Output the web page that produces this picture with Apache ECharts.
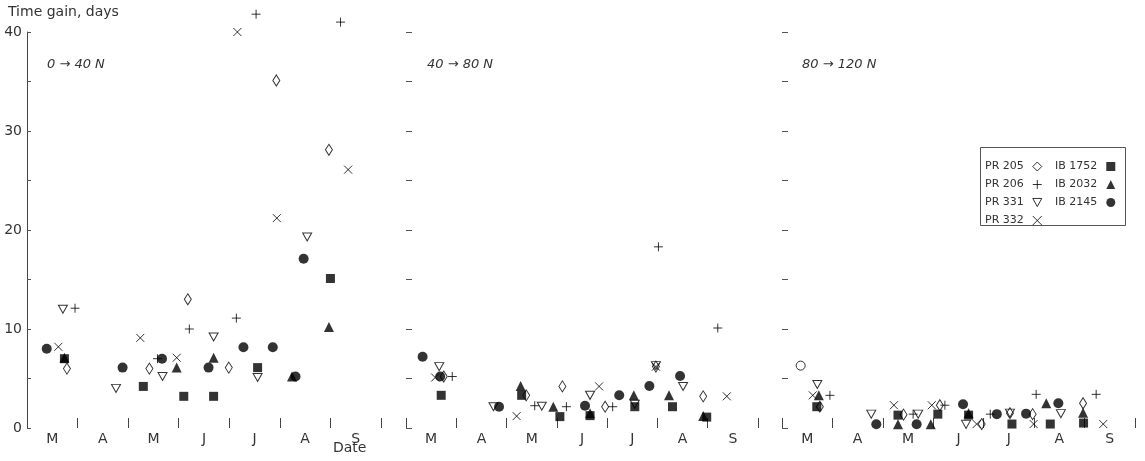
<!DOCTYPE html>
<html>
<head>
<meta charset="utf-8">
<script src="https://cdn.jsdelivr.net/npm/echarts@6/dist/echarts.min.js"></script>
<style>html,body{margin:0;padding:0;background:#fff;}#c{width:1145px;height:461px;}</style>
</head>
<body>
<div id="c"></div>
<script>
// x = month number (3 = 1 March ... 10 = 1 October), y = time gain in days
const monthLabels = ['M', 'A', 'M', 'J', 'J', 'A', 'S'];
const panelTitles = ['0 \u2192 40 N', '40 \u2192 80 N', '80 \u2192 120 N'];
const yTickLabels = [0, 10, 20, 30, 40];

// each series: [panel 0->40N, panel 40->80N, panel 80->120N]
const PR205 = [
  [[3.79,6.0],[5.42,6.0],[6.18,13.0],[6.99,6.1],[7.93,35.1],[8.97,28.1]],
  [[3.75,5.2],[5.39,3.3],[6.11,4.2],[6.96,2.15],[7.97,6.2],[8.91,3.2]],
  [[3.75,2.15],[5.41,1.35],[6.13,2.3],[6.96,0.4],[7.52,1.5],[7.97,1.4],[8.97,2.5]]
];
const PR206 = [
  [[3.95,12.1],[5.58,7.0],[6.21,10.0],[7.14,11.1],[7.53,41.8],[9.20,41.0]],
  [[3.92,5.2],[5.56,2.25],[6.19,2.15],[7.11,2.15],[8.02,18.3],[9.20,10.1]],
  [[3.95,3.3],[5.60,1.4],[6.23,2.3],[7.13,1.4],[8.04,3.4],[9.23,3.4]]
];
const PR331 = [
  [[3.71,12.0],[4.76,4.0],[5.68,5.2],[6.69,9.2],[7.56,5.1],[8.54,19.3]],
  [[3.66,6.2],[4.74,2.15],[5.70,2.2],[6.66,3.3],[7.55,2.4],[7.97,6.3],[8.51,4.2]],
  [[3.70,4.4],[4.77,1.4],[5.70,1.4],[6.65,0.37],[7.52,1.5],[8.53,1.45]]
];
const PR332 = [
  [[3.62,8.2],[5.24,9.1],[5.96,7.1],[7.16,40.0],[7.94,21.2],[9.35,26.1]],
  [[3.58,5.1],[5.20,1.2],[6.84,4.2],[7.97,6.2],[9.38,3.2]],
  [[3.61,3.3],[5.22,2.3],[5.97,2.3],[6.86,0.4],[7.99,0.4],[9.37,0.4]]
];
const IB1752 = [
  [[3.74,7.0],[5.30,4.2],[6.10,3.2],[6.69,3.2],[7.56,6.1],[9.00,15.1]],
  [[3.70,3.3],[5.30,3.3],[6.06,1.15],[6.66,1.25],[7.55,2.15],[8.30,2.15],[8.98,1.1]],
  [[3.69,2.15],[5.30,1.3],[6.09,1.4],[6.70,1.3],[7.56,0.4],[8.32,0.4],[8.98,0.5]]
];
const IB2032 = [
  [[3.74,7.1],[5.96,6.1],[6.69,7.1],[8.24,5.2],[8.97,10.2]],
  [[5.28,4.25],[5.93,2.15],[6.66,1.5],[7.53,3.3],[8.23,3.3],[8.91,1.2]],
  [[3.73,3.3],[5.30,0.37],[5.95,0.37],[6.70,1.5],[8.24,2.5],[8.97,1.55]]
];
const IB2145 = [
  [[3.39,8.0],[4.89,6.1],[5.67,7.0],[6.59,6.1],[7.28,8.15],[7.86,8.15],[8.31,5.2],[8.47,17.1]],
  [[3.33,7.2],[3.68,5.2],[4.85,2.15],[6.56,2.25],[7.24,3.3],[7.84,4.25],[8.45,5.25]],
  [[4.87,0.37],[5.67,0.37],[6.59,2.4],[7.26,1.4],[7.84,1.45],[8.48,2.5]]
];
const unlabeledOpenCircle = [[], [], [[3.37,6.3]]];

const INK = '#000';
const TXT = '#333';
const FONT = 'DejaVu Sans';
const hollow = { color: 'rgba(0,0,0,0)', borderColor: INK, borderWidth: 1 };
const seriesDefs = [
  { name: 'PR 205', data: PR205, symbol: 'diamond', size: [7, 11], style: hollow },
  { name: 'PR 206', data: PR206, symbol: 'path://M5,0L5,10M0,5L10,5', size: 9, style: hollow },
  { name: 'PR 331', data: PR331, symbol: 'path://M0,0L10,0L5,9Z', size: [9, 8], style: hollow },
  { name: 'PR 332', data: PR332, symbol: 'path://M0,0L10,10M10,0L0,10', size: 8, style: hollow },
  { name: 'IB 1752', data: IB1752, symbol: 'rect', size: 9, style: { color: INK } },
  { name: 'IB 2032', data: IB2032, symbol: 'triangle', size: 10, style: { color: INK } },
  { name: 'IB 2145', data: IB2145, symbol: 'circle', size: 10, style: { color: INK } },
  { name: 'open', data: unlabeledOpenCircle, symbol: 'circle', size: 9, style: hollow }
];

const grids = [
  { left: 27, width: 354, top: 32, height: 396 },
  { left: 406, width: 352, top: 32, height: 396 },
  { left: 782, width: 353, top: 32, height: 396 }
];

const xAxes = grids.map((g, i) => ({
  type: 'value', gridIndex: i, min: 3, max: 10, interval: 1,
  axisLine: { show: false },
  splitLine: { show: false },
  axisTick: { show: true, inside: true, length: 10, customValues: [3,4,5,6,7,8,9,10],
              lineStyle: { color: '#444', width: 1 } },
  axisLabel: { customValues: [3.5,4.5,5.5,6.5,7.5,8.5,9.5], margin: 4,
               formatter: v => monthLabels[Math.floor(v - 3)],
               color: TXT, fontSize: 14, fontFamily: FONT }
}));
const yAxes = grids.map((g, i) => ({
  type: 'value', gridIndex: i, min: 0, max: 40, interval: 5,
  splitLine: { show: false },
  axisLine: { show: i === 0, lineStyle: { color: '#444', width: 1 } },
  axisTick: { show: true, inside: true, length: i === 0 ? 4 : 6, lineStyle: { color: '#555' } },
  axisLabel: { show: i === 0, margin: 5, color: TXT, fontSize: 14, fontFamily: FONT,
               formatter: v => (yTickLabels.indexOf(v) >= 0 ? String(v) : '') }
}));

const series = [];
seriesDefs.forEach(d => {
  for (let p = 0; p < 3; p++) {
    series.push({
      type: 'scatter', name: d.name, xAxisIndex: p, yAxisIndex: p,
      data: d.data[p], symbol: d.symbol, symbolSize: d.size, symbolRotate: d.rotate || 0,
      itemStyle: d.style, clip: false, silent: true
    });
  }
});

const legendCommon = {
  orient: 'vertical', align: 'right', itemWidth: 9, itemHeight: 9, itemGap: 7,
  selectedMode: false,
  itemStyle: { borderWidth: 1 },
  textStyle: { color: TXT, fontSize: 11, fontFamily: FONT, padding: [0, 4, 0, 0] }
};

const chart = echarts.init(document.getElementById('c'), null, { renderer: 'canvas' });
chart.setOption({
  animation: false,
  backgroundColor: '#fff',
  grid: grids,
  xAxis: xAxes,
  yAxis: yAxes,
  legend: [
    Object.assign({}, legendCommon, { left: 980, top: 156, data: ['PR 205', 'PR 206', 'PR 331', 'PR 332'] }),
    Object.assign({}, legendCommon, { left: 1050, top: 156, data: ['IB 1752', 'IB 2032', 'IB 2145'] })
  ],
  graphic: [
    { type: 'text', left: 8, top: 5, style: { text: 'Time gain, days', fill: TXT, font: '14px "DejaVu Sans"' } },
    { type: 'text', left: 333, top: 441, style: { text: 'Date', fill: TXT, font: '14px "DejaVu Sans"' } },
    { type: 'text', left: 47, top: 58, style: { text: panelTitles[0], fill: TXT, font: 'italic 13px "DejaVu Sans"' } },
    { type: 'text', left: 427, top: 58, style: { text: panelTitles[1], fill: TXT, font: 'italic 13px "DejaVu Sans"' } },
    { type: 'text', left: 802, top: 58, style: { text: panelTitles[2], fill: TXT, font: 'italic 13px "DejaVu Sans"' } },
    { type: 'rect', left: 978, top: 145, shape: { width: 145, height: 78 },
      style: { fill: 'none', stroke: '#555', lineWidth: 1 } }
  ],
  series: series
});
</script>
</body>
</html>
